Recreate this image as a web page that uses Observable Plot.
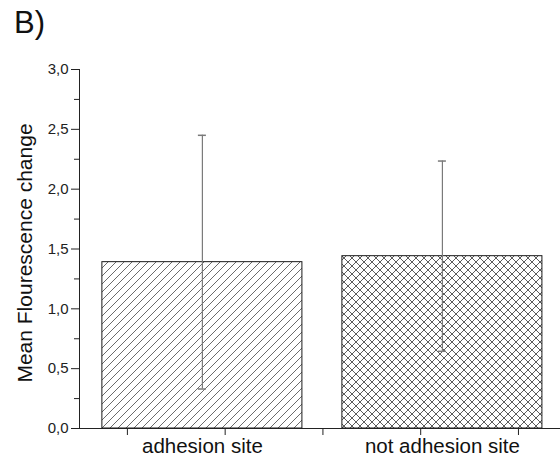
<!DOCTYPE html>
<html>
<head>
<meta charset="utf-8">
<script src="https://cdn.jsdelivr.net/npm/d3@7"></script>
<script src="https://cdn.jsdelivr.net/npm/@observablehq/plot@0.6"></script>
<style>
  html, body { margin: 0; padding: 0; background: #fff; }
  #panel { height: 50px; box-sizing: border-box; padding: 7px 0 0 14px; font: 31px "Liberation Sans", Arial, sans-serif; line-height: 1; color: #111; }
</style>
</head>
<body>
<div id="panel">B)</div>
<div id="chart"></div>
<script>
const categories = ["adhesion site", "not adhesion site"];
const categoryX = [1.767, 4.222];
const means = [1.39, 1.44];
const errors = [1.06, 0.795];
const patterns = ["hatch", "crosshatch"];
const yTicks = [0, 0.5, 1, 1.5, 2, 2.5, 3];
const yMinorTicks = [0.25, 0.75, 1.25, 1.75, 2.25, 2.75];
const xTicks = [1, 2, 3, 4, 5];
const yLabel = "Mean Flourescence change";

const data = categories.map((c, i) => ({
  category: c, x: categoryX[i], mean: means[i],
  lo: means[i] - errors[i], hi: means[i] + errors[i],
  fill: `url(#${patterns[i]})`
}));

const halfBar = 1.023;
const halfCap = 0.041;

const plot = Plot.plot({
  width: 560,
  height: 416,
  marginLeft: 79,
  marginRight: 0,
  marginTop: 19,
  marginBottom: 38,
  style: { fontFamily: "Liberation Sans, Arial, sans-serif", background: "#fff", color: "#222" },
  x: { domain: [0.51, 5.43], axis: null },
  y: { domain: [0, 3], axis: null },
  color: { type: "identity" },
  marks: [
    Plot.rectY(data, { x1: d => d.x - halfBar, x2: d => d.x + halfBar, y1: 0, y2: "mean", fill: "fill", stroke: "#1a1a1a", strokeWidth: 1 }),
    Plot.ruleX(data, { x: "x", y1: "lo", y2: "hi", stroke: "#7a7a7a", strokeWidth: 1.2 }),
    Plot.ruleY(data, { y: "hi", x1: d => d.x - halfCap, x2: d => d.x + halfCap, stroke: "#7a7a7a", strokeWidth: 1.5 }),
    Plot.ruleY(data, { y: "lo", x1: d => d.x - halfCap, x2: d => d.x + halfCap, stroke: "#7a7a7a", strokeWidth: 1.5 }),
    Plot.axisY(yTicks, { tickSize: 8, tickPadding: 3, fontSize: 15, color: "#222", tickFormat: d => d.toFixed(1).replace(".", ","), label: null }),
    Plot.axisY(yMinorTicks, { tickSize: 5, color: "#222", tickFormat: () => "", label: null }),
    Plot.axisX(xTicks, { tickSize: 7, color: "#222", tickFormat: () => "", label: null }),
    Plot.frame({ anchor: "left", stroke: "#222" }),
    Plot.frame({ anchor: "bottom", stroke: "#222" }),
    Plot.text(data, { x: "x", text: "category", frameAnchor: "bottom", dy: 24, fontSize: 20.5, fill: "#111" }),
    Plot.text([yLabel], { frameAnchor: "left", textAnchor: "middle", rotate: -90, dx: -54, dy: 4, fontSize: 21, fill: "#111" })
  ]
});

const ns = "http://www.w3.org/2000/svg";
const defs = document.createElementNS(ns, "defs");
defs.innerHTML = `
  <pattern id="hatch" patternUnits="userSpaceOnUse" width="8" height="8">
    <rect width="8" height="8" fill="#fff"/>
    <path d="M-2,2 L2,-2 M0,8 L8,0 M6,10 L10,6" stroke="#5a5a5a" stroke-width="0.9"/>
  </pattern>
  <pattern id="crosshatch" patternUnits="userSpaceOnUse" width="8" height="8">
    <rect width="8" height="8" fill="#fff"/>
    <path d="M-2,2 L2,-2 M0,8 L8,0 M6,10 L10,6 M-2,6 L2,10 M0,0 L8,8 M6,-2 L10,2" stroke="#4a4a4a" stroke-width="0.9"/>
  </pattern>`;
plot.insertBefore(defs, plot.firstChild);
document.getElementById("chart").appendChild(plot);
</script>
</body>
</html>
